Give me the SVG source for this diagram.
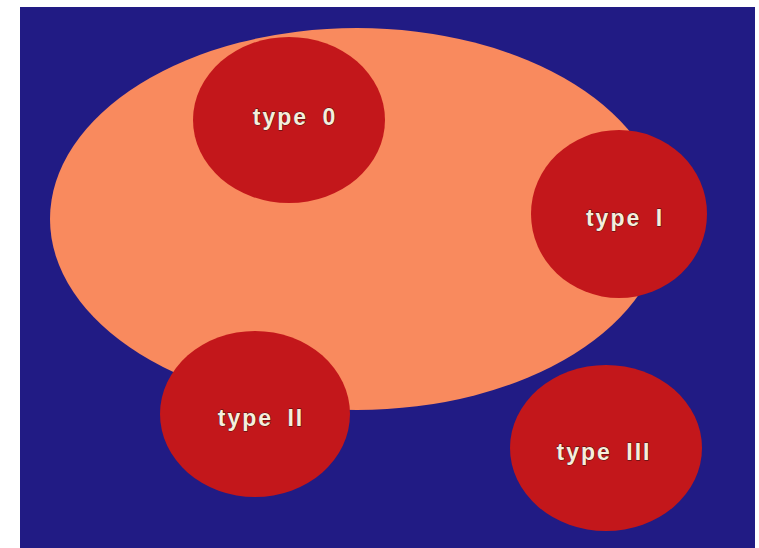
<svg xmlns="http://www.w3.org/2000/svg" width="759" height="548" viewBox="0 0 759 548">
  <style>
    .node { fill: #c3171b; }
    .label { font-family: "Liberation Sans", Arial, sans-serif; font-size: 23px; font-weight: bold; fill: #f6eedc; stroke: #3a1010; stroke-width: 0.8; paint-order: stroke; letter-spacing: 2px; word-spacing: 6px; text-anchor: middle; }
  </style>
  <rect x="0" y="0" width="759" height="548" fill="#ffffff"/>
  <rect x="20" y="7" width="735" height="541" fill="#211b84"/>
  <ellipse id="set" cx="357" cy="219" rx="307" ry="191" fill="#f98a5e"/>
  <g id="type0">
    <ellipse class="node" cx="289" cy="120" rx="96" ry="83"/>
    <text class="label" x="295" y="125">type 0</text>
  </g>
  <g id="typeI">
    <ellipse class="node" cx="619" cy="214" rx="88" ry="84"/>
    <text class="label" x="625" y="226">type I</text>
  </g>
  <g id="typeII">
    <ellipse class="node" cx="255" cy="414" rx="95" ry="83"/>
    <text class="label" x="261" y="426">type II</text>
  </g>
  <g id="typeIII">
    <ellipse class="node" cx="606" cy="448" rx="96" ry="83"/>
    <text class="label" x="604" y="460">type III</text>
  </g>
  <g id="connectors"/>
</svg>
